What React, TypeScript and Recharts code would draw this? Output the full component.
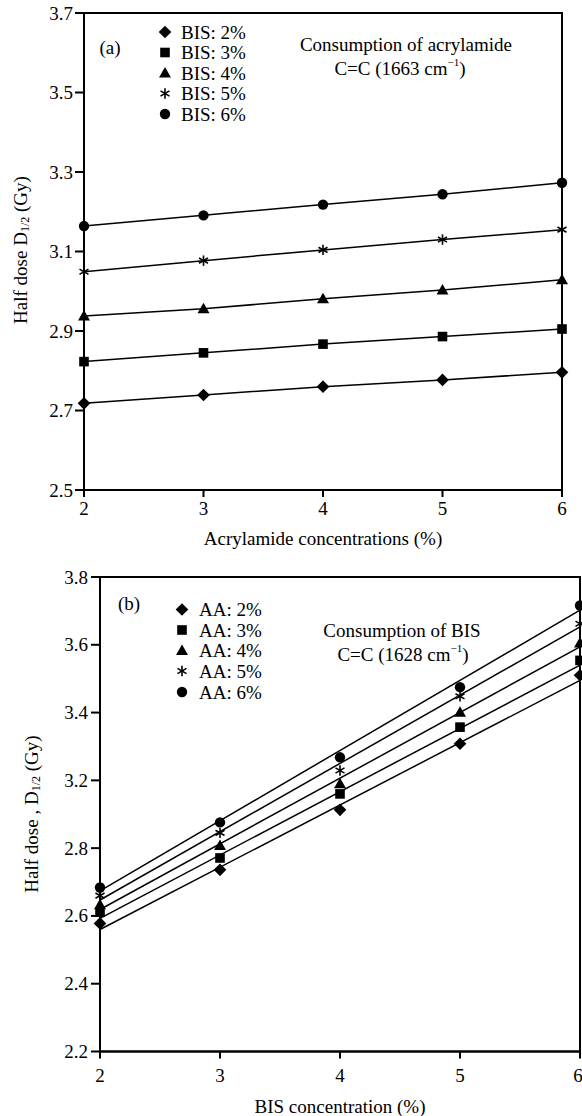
import React from 'react';
import { ComposedChart, Line, XAxis, YAxis, ReferenceArea } from 'recharts';

const FONT = '"Liberation Serif", "Times New Roman", Times, serif';

// ---------- Panel (a): half dose vs acrylamide concentration ----------
const acrylamideX = [2, 3, 4, 5, 6];
const bis2 = [2.718, 2.739, 2.76, 2.777, 2.796];
const bis3 = [2.823, 2.845, 2.867, 2.886, 2.905];
const bis4 = [2.938, 2.956, 2.981, 3.003, 3.029];
const bis5 = [3.049, 3.077, 3.104, 3.13, 3.155];
const bis6 = [3.164, 3.191, 3.218, 3.244, 3.273];
const topXTicks = [2, 3, 4, 5, 6];
const topYTicks = [2.5, 2.7, 2.9, 3.1, 3.3, 3.5, 3.7];
const topYLabels = ['2.5', '2.7', '2.9', '3.1', '3.3', '3.5', '3.7'];
const topLegend = ['BIS: 2%', 'BIS: 3%', 'BIS: 4%', 'BIS: 5%', 'BIS: 6%'];

// ---------- Panel (b): half dose vs BIS concentration ----------
const bisX = [2, 3, 4, 5, 6];
const aa2 = [2.778, 2.936, 3.113, 3.308, 3.51];
const aa3 = [2.811, 2.971, 3.16, 3.357, 3.554];
const aa4 = [2.833, 3.008, 3.19, 3.401, 3.605];
const aa5 = [2.86, 3.045, 3.229, 3.448, 3.662];
const aa6 = [2.884, 3.076, 3.268, 3.475, 3.716];
// fitted straight lines, values read at x = 2 and x = 6
const fitX = [2, 6];
const aa2Fit = [2.76, 3.495];
const aa3Fit = [2.793, 3.54];
const aa4Fit = [2.819, 3.594];
const aa5Fit = [2.847, 3.653];
const aa6Fit = [2.874, 3.702];
const bottomXTicks = [2, 3, 4, 5, 6];
const bottomYTicks = [2.4, 2.6, 2.8, 3.0, 3.2, 3.4, 3.6, 3.8];
const bottomYLabels = ['2.2', '2.4', '2.6', '2.8', '3.2', '3.4', '3.6', '3.8'];
const bottomLegend = ['AA: 2%', 'AA: 3%', 'AA: 4%', 'AA: 5%', 'AA: 6%'];

const shapes = ['diamond', 'square', 'triangle', 'star', 'circle'];

const toRows = (xs: number[], ys: number[]) => xs.map((x, i) => ({ x, y: ys[i] }));

function Marker({ shape, cx, cy }: { shape: string; cx: number; cy: number }) {
  const k = '#000';
  if (shape === 'diamond') {
    const r = 6.3;
    return <polygon points={`${cx},${cy - r} ${cx + r},${cy} ${cx},${cy + r} ${cx - r},${cy}`} fill={k} />;
  }
  if (shape === 'square') {
    const h = 4.8;
    return <rect x={cx - h} y={cy - h} width={2 * h} height={2 * h} fill={k} />;
  }
  if (shape === 'triangle') {
    const r = 6;
    return <polygon points={`${cx},${cy - r} ${cx + r},${cy + r * 0.75} ${cx - r},${cy + r * 0.75}`} fill={k} />;
  }
  if (shape === 'star') {
    const r = 5.2;
    const a = Math.cos(Math.PI / 6) * r;
    const b = Math.sin(Math.PI / 6) * r;
    return (
      <g stroke={k} strokeWidth={1.6}>
        <line x1={cx} y1={cy - r} x2={cx} y2={cy + r} />
        <line x1={cx - a} y1={cy - b} x2={cx + a} y2={cy + b} />
        <line x1={cx - a} y1={cy + b} x2={cx + a} y2={cy - b} />
      </g>
    );
  }
  return <circle cx={cx} cy={cy} r={5.2} fill={k} />;
}

const dotRenderer = (shape: string) => (props: any) => (
  <g key={`d-${shape}-${props.index}`}>
    <Marker shape={shape} cx={props.cx} cy={props.cy} />
  </g>
);

const labelFor = (ticks: number[], labels: string[], v: number) =>
  labels[ticks.findIndex((t) => Math.abs(t - v) < 1e-6)] ?? String(v);

const XTick = (props: any) => (
  <text x={props.x} y={props.y} dy="0.71em" textAnchor="middle" fontSize={19} fontFamily={FONT} fill="#000">
    {props.payload.value}
  </text>
);

const makeYTick = (ticks: number[], labels: string[]) => (props: any) => (
  <text x={props.x} y={props.y} textAnchor="end" dominantBaseline="central" fontSize={19} fontFamily={FONT} fill="#000">
    {labelFor(ticks, labels, props.payload.value)}
  </text>
);

function TopChart() {
  const series = [bis2, bis3, bis4, bis5, bis6];
  return (
    <ComposedChart width={582} height={560} margin={{ top: 13, right: 20, bottom: 20, left: 0 }} style={{ fontFamily: FONT }}>
      <XAxis
        type="number"
        dataKey="x"
        domain={[2, 6]}
        ticks={topXTicks}
        tick={XTick}
        tickSize={7}
        tickMargin={5}
        height={50}
        axisLine={{ stroke: '#000', strokeWidth: 2 }}
        tickLine={{ stroke: '#000', strokeWidth: 2 }}
        label={(p: any) => {
          const vb = p.viewBox || { x: 84, y: 490, width: 478 };
          return (
            <text x={vb.x + vb.width / 2} y={vb.y + 48} textAnchor="middle" dominantBaseline="central"
              fontSize={19} fontFamily={FONT} fill="#000">Acrylamide concentrations (%)</text>
          );
        }}
      />
      <YAxis
        type="number"
        dataKey="y"
        domain={[2.5, 3.7]}
        ticks={topYTicks}
        tick={makeYTick(topYTicks, topYLabels)}
        tickSize={9}
        tickMargin={2}
        width={84}
        axisLine={{ stroke: '#000', strokeWidth: 2 }}
        tickLine={{ stroke: '#000', strokeWidth: 2 }}
        label={() => (
          <text x={20} y={250} transform="rotate(-90 20 250)" textAnchor="middle" dominantBaseline="central"
            fontSize={19} fontFamily={FONT} fill="#000">
            Half dose D<tspan fontSize={12} dy={5}>1/2</tspan><tspan dy={-5}> (Gy)</tspan>
          </text>
        )}
      />
      <ReferenceArea x1={2} x2={6} y1={2.5} y2={3.7} fill="none" stroke="#000" strokeWidth={2} ifOverflow="visible" />
      {series.map((ys, i) => (
        <Line
          key={`top-${i}`}
          data={toRows(acrylamideX, ys)}
          dataKey="y"
          type="linear"
          stroke="#000"
          strokeWidth={1.5}
          dot={dotRenderer(shapes[i])}
          activeDot={false}
          isAnimationActive={false}
          legendType="none"
        />
      ))}
    </ComposedChart>
  );
}

function BottomChart() {
  const series = [aa2, aa3, aa4, aa5, aa6];
  const fits = [aa2Fit, aa3Fit, aa4Fit, aa5Fit, aa6Fit];
  return (
    <ComposedChart width={582} height={556} margin={{ top: 17, right: 2, bottom: 14.5, left: 0 }} style={{ fontFamily: FONT }}>
      <XAxis
        type="number"
        dataKey="x"
        domain={[2, 6]}
        ticks={bottomXTicks}
        tick={XTick}
        tickSize={7}
        tickMargin={10}
        height={50}
        axisLine={{ stroke: '#000', strokeWidth: 2 }}
        tickLine={{ stroke: '#000', strokeWidth: 2 }}
        label={(p: any) => {
          const vb = p.viewBox || { x: 100, y: 491.5, width: 480 };
          return (
            <text x={vb.x + vb.width / 2} y={vb.y + 55} textAnchor="middle" dominantBaseline="central"
              fontSize={19} fontFamily={FONT} fill="#000">BIS concentration (%)</text>
          );
        }}
      />
      <YAxis
        type="number"
        dataKey="y"
        domain={[2.4, 3.8]}
        ticks={bottomYTicks}
        tick={makeYTick(bottomYTicks, bottomYLabels)}
        tickSize={9}
        tickMargin={3}
        width={100}
        axisLine={{ stroke: '#000', strokeWidth: 2 }}
        tickLine={{ stroke: '#000', strokeWidth: 2 }}
        label={() => (
          <text x={31} y={254} transform="rotate(-90 31 254)" textAnchor="middle" dominantBaseline="central"
            fontSize={19} fontFamily={FONT} fill="#000">
            Half dose , D<tspan fontSize={12} dy={5}>1/2</tspan><tspan dy={-5}> (Gy)</tspan>
          </text>
        )}
      />
      <ReferenceArea x1={2} x2={6} y1={2.4} y2={3.8} fill="none" stroke="#000" strokeWidth={2} ifOverflow="visible" />
      {fits.map((ys, i) => (
        <Line
          key={`fit-${i}`}
          data={toRows(fitX, ys)}
          dataKey="y"
          type="linear"
          stroke="#000"
          strokeWidth={1.5}
          dot={false}
          activeDot={false}
          isAnimationActive={false}
          legendType="none"
        />
      ))}
      {series.map((ys, i) => (
        <Line
          key={`pts-${i}`}
          data={toRows(bisX, ys)}
          dataKey="y"
          type="linear"
          stroke="none"
          dot={dotRenderer(shapes[i])}
          activeDot={false}
          isAnimationActive={false}
          legendType="none"
        />
      ))}
    </ComposedChart>
  );
}

function Overlay() {
  const txt = { fontSize: 19, fontFamily: FONT, fill: '#000' } as const;
  const topRows = [32, 52.5, 73, 93.5, 114];
  const botRows = [609.5, 630, 650.5, 671, 692];
  return (
    <svg width={582} height={1116} style={{ position: 'absolute', left: 0, top: 0, pointerEvents: 'none' }}>
      {/* panel (a) */}
      <text x={110} y={47} textAnchor="middle" dominantBaseline="central" {...txt}>(a)</text>
      {topLegend.map((t, i) => (
        <g key={`tl-${i}`}>
          <Marker shape={shapes[i]} cx={165} cy={topRows[i]} />
          <text x={181} y={topRows[i]} dominantBaseline="central" {...txt}>{t}</text>
        </g>
      ))}
      <text x={406} y={44} textAnchor="middle" dominantBaseline="central" {...txt}>Consumption of acrylamide</text>
      <text x={400} y={68} textAnchor="middle" dominantBaseline="central" {...txt}>
        C=C (1663 cm<tspan fontSize={11} dy={-6}>−1</tspan><tspan dy={6}>)</tspan>
      </text>
      {/* panel (b) */}
      <text x={129} y={603} textAnchor="middle" dominantBaseline="central" {...txt}>(b)</text>
      {bottomLegend.map((t, i) => (
        <g key={`bl-${i}`}>
          <Marker shape={shapes[i]} cx={182} cy={botRows[i]} />
          <text x={199} y={botRows[i]} dominantBaseline="central" {...txt}>{t}</text>
        </g>
      ))}
      <text x={402} y={630.5} textAnchor="middle" dominantBaseline="central" {...txt}>Consumption of BIS</text>
      <text x={403} y={654} textAnchor="middle" dominantBaseline="central" {...txt}>
        C=C (1628 cm<tspan fontSize={11} dy={-6}>−1</tspan><tspan dy={6}>)</tspan>
      </text>
    </svg>
  );
}

export default function App() {
  return (
    <div style={{ position: 'absolute', left: 0, top: 0, width: 582, height: 1116, background: '#fff' }}>
      <div style={{ position: 'absolute', left: 0, top: 0 }}>
        <TopChart />
      </div>
      <div style={{ position: 'absolute', left: 0, top: 560 }}>
        <BottomChart />
      </div>
      <Overlay />
    </div>
  );
}
